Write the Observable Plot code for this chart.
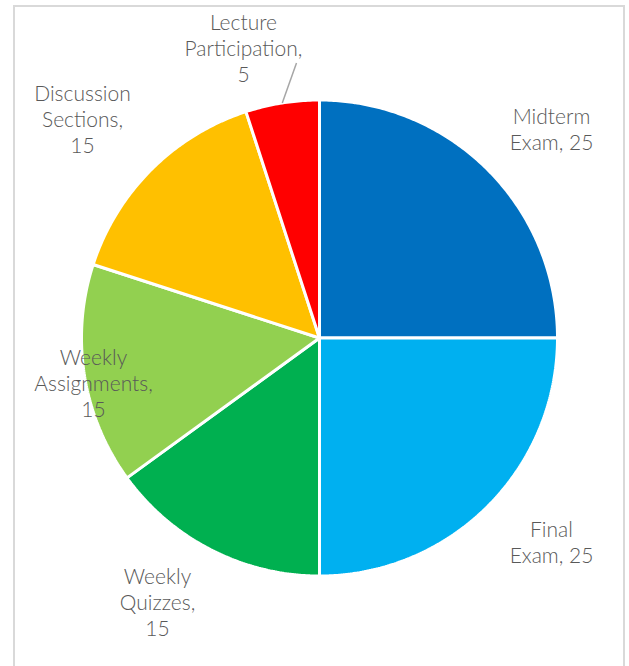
<!DOCTYPE html>
<html><head><meta charset="utf-8">
<script src="https://cdn.jsdelivr.net/npm/d3@7"></script>
<script src="https://cdn.jsdelivr.net/npm/@observablehq/plot@0.6"></script>
<style>
body{margin:0;background:#fff;}
#wrap{position:relative;width:629px;height:666px;overflow:hidden;background:#fff;}
#chart{position:absolute;left:0;top:0;}
#border{position:absolute;left:13px;top:5px;width:612px;height:720px;border:2px solid #d9d9d9;box-sizing:border-box;pointer-events:none;}
</style></head><body>
<div id="wrap"><div id="chart"></div><div id="border"></div></div>
<script>
// data
const categories = ["Midterm Exam","Final Exam","Weekly Quizzes","Weekly Assignments","Discussion Sections","Lecture Participation"];
const values = [25, 25, 15, 15, 15, 5];
const colors = ["#0070C0","#00B0F0","#00B050","#92D050","#FFC000","#FF0000"];
const labelTexts = ["Midterm\nExam, 25","Final\nExam, 25","Weekly\nQuizzes,\n15","Weekly\nAssignments,\n15","Discussion\nSections,\n15","Lecture\nParticipation,\n5"];

// layout (pixels relative to pie centre)
const R = 238;
const labelOffsets = [[232,-209],[232,204],[-162,264],[-226,45],[-237,-219],[-76,-290]];
const leaderEnd = [-23,-275];

const arcs = d3.pie().sort(null).value(d => d)(values);
const slicePts = [];
arcs.forEach((a, i) => {
  const key = categories[i];
  slicePts.push({key, x: 0, y: 0});
  const n = Math.max(8, Math.ceil((a.endAngle - a.startAngle) / 0.01));
  for (let k = 0; k <= n; k++) {
    const t = a.startAngle + (a.endAngle - a.startAngle) * k / n;
    slicePts.push({key, x: R * Math.sin(t), y: -R * Math.cos(t)});
  }
  slicePts.push({key, x: 0, y: 0});
});
const labels = categories.map((c, i) => ({key: c, text: labelTexts[i], x: labelOffsets[i][0], y: labelOffsets[i][1]}));
const lp = arcs[5];
const mid = (lp.startAngle + lp.endAngle) / 2;
const leader = [{x1: R * Math.sin(mid), y1: -R * Math.cos(mid), x2: leaderEnd[0], y2: leaderEnd[1]}];

const chart = Plot.plot({
  width: 629, height: 666,
  margin: 0,
  style: {background: "transparent", fontFamily: "Lato, sans-serif"},
  x: {domain: [-319, 310], axis: null},
  y: {domain: [-337.5, 328.5], reverse: true, axis: null},
  color: {domain: categories, range: colors},
  marks: [
    Plot.line(slicePts, {x: "x", y: "y", z: "key", fill: "key", stroke: "white", strokeWidth: 3, strokeLinejoin: "miter", curve: "linear"}),
    Plot.link(leader, {x1: "x1", y1: "y1", x2: "x2", y2: "y2", stroke: "#a6a6a6", strokeWidth: 1.5}),
    Plot.text(labels, {x: "x", y: "y", text: "text", fill: "#595959", fontSize: 21, fontWeight: 300, lineHeight: 1.24, fontFamily: "Lato, sans-serif"})
  ]
});
document.getElementById("chart").appendChild(chart);
</script>
</body></html>
